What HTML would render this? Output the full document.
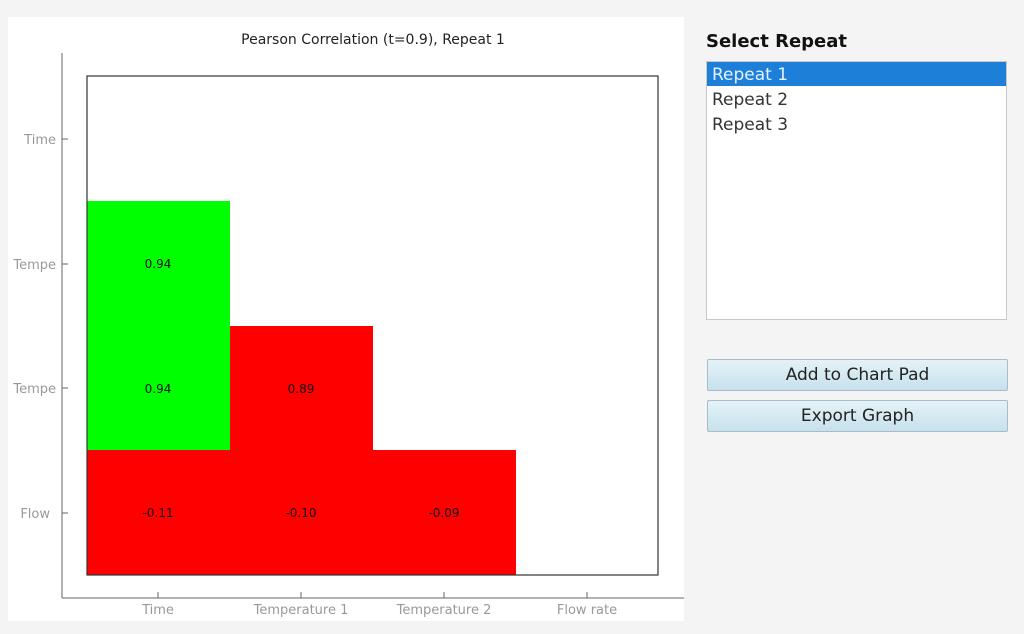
<!DOCTYPE html><html><head><style>
body{margin:0;width:1024px;height:634px;background:#f4f4f4;font-family:"DejaVu Sans","Liberation Sans",sans-serif;position:relative;overflow:hidden}
.a{position:absolute}
.btn{position:absolute;left:707px;width:299px;height:30px;border:1px solid #a9bcc7;border-radius:2px;background:linear-gradient(#e4f2f8,#c7e1ec);font-size:17px;color:#222;text-align:center;line-height:30px}
</style></head><body>
<div class="a" style="left:8px;top:17px;width:676px;height:604px;background:#fff"></div>
<svg class="a" style="left:0;top:0" width="700" height="634" font-family="DejaVu Sans, Liberation Sans, sans-serif">
<text x="373" y="44" font-size="14" text-anchor="middle" fill="#222">Pearson Correlation (t=0.9), Repeat 1</text>
<rect x="87" y="201" width="143" height="249" fill="#00ff00"/>
<rect x="230" y="326" width="143" height="124" fill="#ff0000"/>
<rect x="87" y="450" width="429" height="125" fill="#ff0000"/>
<rect x="87" y="76" width="571" height="499" fill="none" stroke="#333" stroke-width="1.2"/>
<line x1="62" y1="53" x2="62" y2="598" stroke="#666"/>
<line x1="62" y1="598" x2="684" y2="598" stroke="#666"/>
<g stroke="#666"><line x1="62" y1="139" x2="68" y2="139"/><line x1="62" y1="264" x2="68" y2="264"/><line x1="62" y1="388" x2="68" y2="388"/><line x1="62" y1="513" x2="68" y2="513"/>
<line x1="158" y1="592" x2="158" y2="598"/><line x1="301" y1="592" x2="301" y2="598"/><line x1="444" y1="592" x2="444" y2="598"/><line x1="587" y1="592" x2="587" y2="598"/></g>
<g font-size="13" fill="#999" text-anchor="end"><text x="56" y="144">Time</text><text x="56" y="269">Tempe</text><text x="56" y="393">Tempe</text><text x="50" y="518">Flow</text></g>
<g font-size="13" fill="#999" text-anchor="middle"><text x="158" y="614">Time</text><text x="301" y="614">Temperature 1</text><text x="444" y="614">Temperature 2</text><text x="587" y="614">Flow rate</text></g>
<g font-size="12" fill="#111" text-anchor="middle"><text x="158" y="268">0.94</text><text x="158" y="393">0.94</text><text x="301" y="393">0.89</text><text x="158" y="517">-0.11</text><text x="301" y="517">-0.10</text><text x="444" y="517">-0.09</text></g>
</svg>
<div class="a" style="left:706px;top:31px;font-size:18px;font-weight:bold;color:#111">Select Repeat</div>
<div class="a" style="left:706px;top:61px;width:299px;height:257px;background:#fff;border:1px solid #c8c8c8"></div>
<div class="a" style="left:707px;top:62px;width:299px;height:24px;background:#1e7fd8"></div>
<div class="a" style="left:712px;top:64px;font-size:17px;color:#e8f1ff;line-height:22px">Repeat 1</div>
<div class="a" style="left:712px;top:89px;font-size:17px;color:#333;line-height:22px">Repeat 2</div>
<div class="a" style="left:712px;top:114px;font-size:17px;color:#333;line-height:22px">Repeat 3</div>
<div class="btn" style="top:359px">Add to Chart Pad</div>
<div class="btn" style="top:400px">Export Graph</div>
</body></html>
